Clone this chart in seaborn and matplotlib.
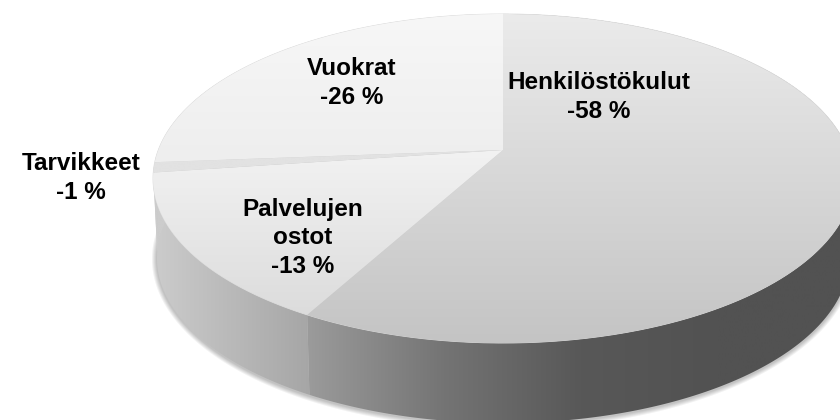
import numpy as np
import matplotlib
matplotlib.use("Agg")
import matplotlib.pyplot as plt
from matplotlib.patches import Polygon
import seaborn as sns

# === Data ===
categories = ["Henkilöstökulut", "Palvelujen\nostot", "Tarvikkeet", "Vuokrat"]
shares = [58.0, 14.8, 1.0, 26.2]          # drawn slice sizes
printed = ["-58 %", "-13 %", "-1 %", "-26 %"]   # what the labels say

# === Look ===
top_colors = [["#ebebeb", "#c4c4c4"], ["#f2f2f2", "#dcdcdc"],
              ["#e2e2e2", "#e2e2e2"], ["#f7f7f7", "#eeeeee"]]
side_colors = [["#9b9b9b", "#747474", "#585858", "#525252", "#525252"],
               ["#cccccc", "#a6a6a6"], ["#cccccc", "#cccccc"], ["#cccccc", "#cccccc"]]
label_pos = [(599, 97), (303, 238), (81, 178), (352, 83)]

sns.set_theme(style="white")
plt.rcParams["font.family"] = ["Liberation Sans", "DejaVu Sans"]

fig = plt.figure(figsize=(8.4, 4.2), dpi=100)
ax = fig.add_axes([0, 0, 1, 1])

# pie only gives us the slice angles, the perspective is done below
wedges, _ = ax.pie(shares, startangle=90, counterclock=False)
for w in wedges:
    w.set_visible(False)


def project(t, cy=150.0, rx=344.7, ry=159.6, k=0.1733, cx=503.0):
    x, y = np.cos(t), np.sin(t)
    return cx + rx * x / (1 + k * y), cy - ry * y / (1 + k * y)


def top_points(t):
    return project(t)


def bottom_points(t):
    return project(t, cy=229.5, rx=340.8, ry=160.0)


def gradient_fill(pts, colors, z, vertical=True):
    patch = Polygon(pts, closed=True, transform=ax.transData, fc="none", ec="none")
    ax.add_patch(patch)
    x0, x1 = pts[:, 0].min(), pts[:, 0].max()
    y0, y1 = pts[:, 1].min(), pts[:, 1].max()
    ramp = np.linspace(0, 1, 256)
    ramp = ramp[:, None] if vertical else ramp[None, :]
    im = ax.imshow(ramp, cmap=sns.blend_palette(colors, as_cmap=True), vmin=0, vmax=1,
                   extent=(x0, x1, y1, y0), origin="upper", aspect="auto",
                   interpolation="bilinear", zorder=z)
    im.set_clip_path(patch)


all_t = np.linspace(0, 2 * np.pi, 720)

# soft shadow round the foot of the disc
bx, by = bottom_points(all_t)
for grow in [5, 4, 3, 2, 1]:
    sx = 503 + (bx - 503) * (1 + grow / 346)
    sy = 258 + 1 + (by - 258) * (1 + grow / 165)
    ax.fill(sx, sy, color="black", alpha=0.05, lw=0, zorder=1)

# side wall, then top face
for w, colors in zip(wedges, side_colors):
    t = np.radians(np.linspace(w.theta1, w.theta2, 300))
    tx, ty = top_points(t)
    bx, by = bottom_points(t)
    pts = np.column_stack([np.r_[tx, bx[::-1]], np.r_[ty, by[::-1]]])
    gradient_fill(pts, colors, 2, vertical=False)

tx, ty = top_points(all_t)
ax.plot(tx, ty, color="#dadada", lw=0.6, zorder=3)

for w, colors in zip(wedges, top_colors):
    t = np.radians(np.linspace(w.theta1, w.theta2, 300))
    tx, ty = top_points(t)
    pts = np.column_stack([np.r_[503, tx], np.r_[150, ty]])
    gradient_fill(pts, colors, 4)

for name, pct, (x, y) in zip(categories, printed, label_pos):
    ax.text(x, y, name + "\n" + pct, ha="center", va="center", fontsize=17.5,
            fontweight="bold", color="black", linespacing=1.3, zorder=5)

ax.set_aspect("auto")
ax.set_xlim(0, 840)
ax.set_ylim(420, 0)
ax.axis("off")

fig.savefig("out.png", dpi=100, facecolor="white")
